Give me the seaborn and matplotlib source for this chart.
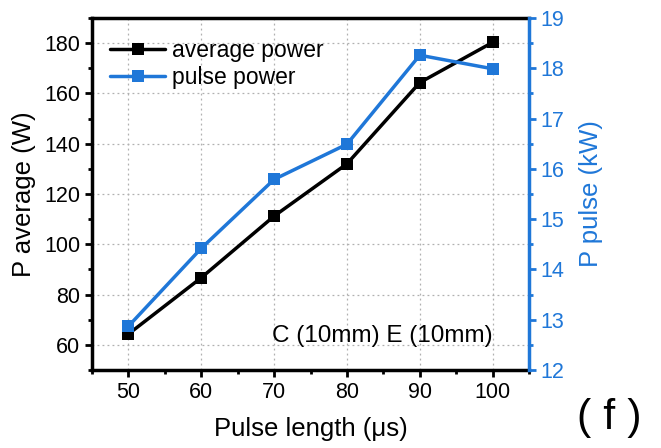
import matplotlib
matplotlib.use("Agg")
import matplotlib.pyplot as plt
import seaborn as sns
import pandas as pd
from matplotlib.ticker import MultipleLocator

pulse_length = [50, 60, 70, 80, 90, 100]
avg_power = [64.3, 86.7, 111.2, 132.0, 164.3, 180.3]
pulse_power = [12.87, 14.42, 15.79, 16.49, 18.26, 17.99]

sns.set_style("white")
plt.rcParams['font.family'] = ['Liberation Sans', 'DejaVu Sans']
plt.rcParams['text.color'] = 'black'
plt.rcParams['axes.labelcolor'] = 'black'
plt.rcParams['xtick.color'] = 'black'
plt.rcParams['ytick.color'] = 'black'

blue = '#1F77D8'
df = pd.DataFrame({'x': pulse_length, 'avg': avg_power, 'pulse': pulse_power})

fig = plt.figure(figsize=(6.61, 4.48), dpi=100)
ax = fig.add_axes([92/661, 1 - 370/448, (529-92)/661, (370-18)/448])
ax2 = ax.twinx()

sns.lineplot(data=df, x='x', y='avg', ax=ax, color='black', marker='s', markersize=9,
             markeredgewidth=0, linewidth=2.5, label='average power', legend=False)
sns.lineplot(data=df, x='x', y='pulse', ax=ax2, color=blue, marker='s', markersize=9,
             markeredgewidth=0, linewidth=2.5, label='pulse power', legend=False)

ax.set_xlim(45, 105)
ax.set_ylim(50, 190)
ax2.set_ylim(12, 19)
ax.xaxis.set_major_locator(MultipleLocator(10))
ax.xaxis.set_minor_locator(MultipleLocator(5))
ax.yaxis.set_major_locator(MultipleLocator(20))
ax.yaxis.set_minor_locator(MultipleLocator(10))
ax2.yaxis.set_major_locator(MultipleLocator(1))
ax2.yaxis.set_minor_locator(MultipleLocator(0.5))

ax.grid(True, which='major', linestyle=(0, (1.5, 2.5)), color='#b0b0b0', linewidth=0.9)
ax.set_axisbelow(True)

for s in ['left', 'bottom', 'top']:
    ax.spines[s].set_linewidth(2.5)
    ax.spines[s].set_color('black')
ax.spines['right'].set_visible(False)
for s in ['left', 'bottom', 'top']:
    ax2.spines[s].set_visible(False)
ax2.spines['right'].set_color(blue)
ax2.spines['right'].set_linewidth(2.5)

ax.tick_params(axis='both', which='major', direction='out', length=5, width=2, labelsize=15.5,
               color='black', labelcolor='black', left=True, bottom=True)
ax.tick_params(axis='both', which='minor', direction='out', length=3, width=2, color='black', left=True, bottom=True)
ax2.tick_params(axis='y', which='major', direction='out', length=5, width=2, labelsize=15.5, colors=blue, right=True)
ax2.tick_params(axis='y', which='minor', direction='out', length=3, width=2, color=blue, right=True)

ax.set_xlabel('Pulse length (\u03bcs)', fontsize=18.5, labelpad=10, color='black')
ax.set_ylabel('P average (W)', fontsize=18.5, labelpad=6, color='black')
ax2.set_ylabel('P pulse (kW)', fontsize=18.5, color=blue, labelpad=10)

h1, l1 = ax.get_legend_handles_labels()
h2, l2 = ax2.get_legend_handles_labels()
leg = ax.legend(h1 + h2, l1 + l2, loc='upper left', fontsize=16.5, frameon=False,
                handlelength=2.4, handletextpad=0.3, borderaxespad=0.5, labelspacing=0.2,
                bbox_to_anchor=(-0.005, 1.0), labelcolor='black')

ax.text(100, 59, 'C (10mm) E (10mm)', fontsize=17.5, ha='right', va='bottom', color='black')
fig.text(609/661, 1 - 418/448, '( f )', fontsize=31, ha='center', va='center', color='black')

fig.savefig('out.png', dpi=100)
